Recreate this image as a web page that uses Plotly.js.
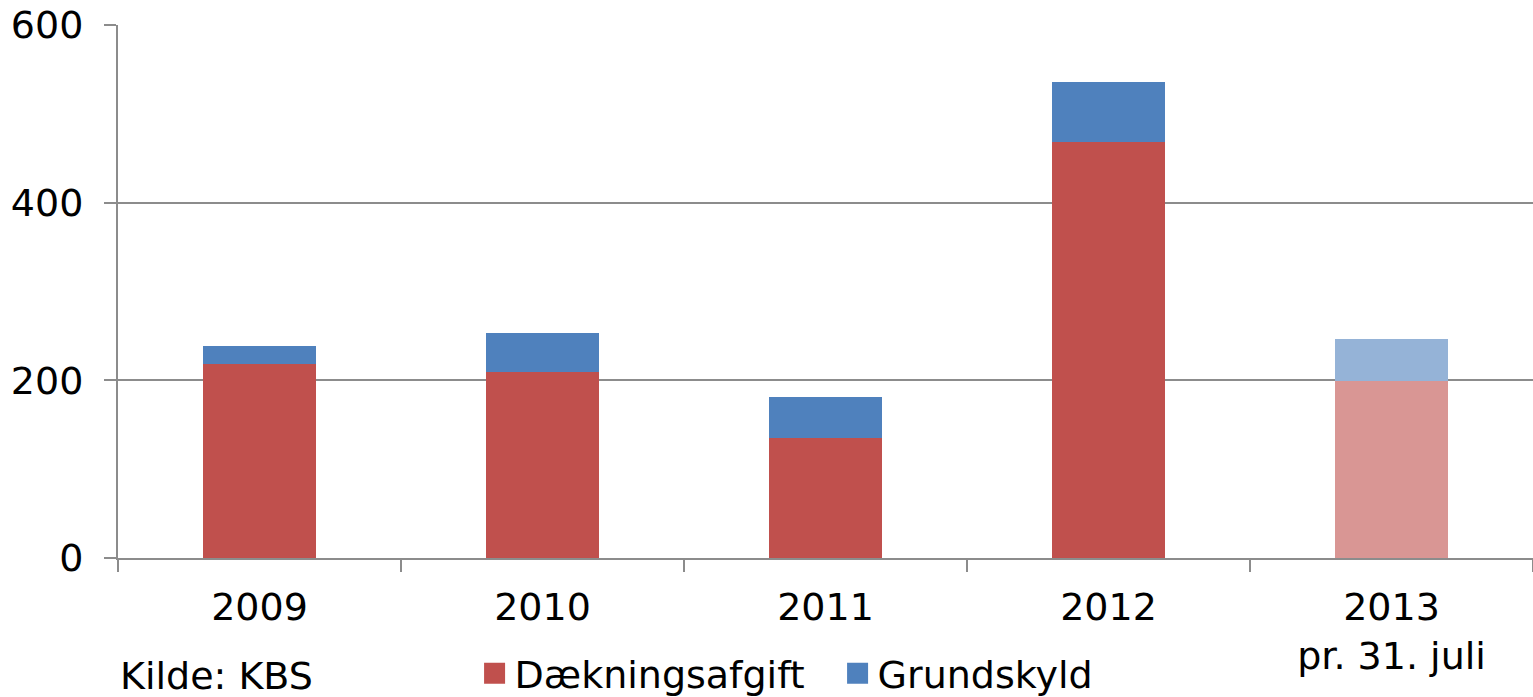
<!DOCTYPE html>
<html>
<head>
<meta charset="utf-8">
<script src="https://cdn.plot.ly/plotly-3.0.1.min.js"></script>
<style>html,body{margin:0;padding:0;background:#fff;}#chart{width:1533px;height:697px;}</style>
</head>
<body>
<div id="chart"></div>
<script>
var categories = ['2009', '2010', '2011', '2012', '2013'];
var tickLabels = ['2009', '2010', '2011', '2012', '2013<br>pr. 31. juli'];
var daekningsafgift = [218, 209, 135, 468, 199];
var grundskyld = [21, 44, 46, 68, 48];
var redColors = ['#C0504D', '#C0504D', '#C0504D', '#C0504D', '#D99694'];
var blueColors = ['#4F81BD', '#4F81BD', '#4F81BD', '#4F81BD', '#95B3D7'];

var font = {family: 'DejaVu Sans, Verdana, sans-serif', size: 38, color: '#000'};

var traces = [
  {type: 'bar', name: 'Dækningsafgift', x: categories, y: daekningsafgift,
   marker: {color: redColors, line: {width: 0}}, hoverinfo: 'x+y+name'},
  {type: 'bar', name: 'Grundskyld', x: categories, y: grundskyld,
   marker: {color: blueColors, line: {width: 0}}, hoverinfo: 'x+y+name'}
];

var layout = {
  width: 1533, height: 697,
  margin: {l: 118, r: 0, t: 25, b: 139, pad: 0, autoexpand: false},
  paper_bgcolor: '#fff', plot_bgcolor: '#fff',
  font: font,
  barmode: 'stack',
  bargap: 0.6,
  showlegend: true,
  legend: {orientation: 'h', x: 0.252, xanchor: 'left', y: -0.217, yanchor: 'middle',
           font: font, bgcolor: 'rgba(0,0,0,0)', traceorder: 'normal',
           entrywidth: 318, entrywidthmode: 'pixels'},
  xaxis: {
    type: 'category', tickmode: 'array', tickvals: categories, ticktext: tickLabels,
    tickson: 'boundaries', ticks: 'outside', ticklen: 12, tickwidth: 2, tickcolor: '#8C8C8C',
    showline: true, linecolor: '#8C8C8C', linewidth: 2, showgrid: false,
    tickfont: font, ticklabelstandoff: 14, fixedrange: true, automargin: false
  },
  yaxis: {
    range: [0, 600], tickmode: 'linear', tick0: 0, dtick: 200,
    ticks: 'outside', ticklen: 12, tickwidth: 2, tickcolor: '#8C8C8C',
    showline: true, linecolor: '#8C8C8C', linewidth: 2,
    showgrid: true, gridcolor: '#8C8C8C', gridwidth: 2, zeroline: false,
    tickfont: font, ticklabelstandoff: 13, fixedrange: true, automargin: false
  },
  annotations: [
    {text: 'Kilde: KBS', xref: 'paper', yref: 'paper', x: 0.0, y: -0.221,
     xanchor: 'left', yanchor: 'middle', showarrow: false, font: font}
  ]
};

Plotly.newPlot('chart', traces, layout, {displayModeBar: false, staticPlot: true}).then(function (gd) {
  var syms = gd.querySelectorAll('.legend .legendpoints path');
  syms.forEach(function (p) {
    var t = p.getAttribute('transform') || '';
    p.setAttribute('transform', t + ' scale(1.75)');
  });
});
</script>
</body>
</html>
